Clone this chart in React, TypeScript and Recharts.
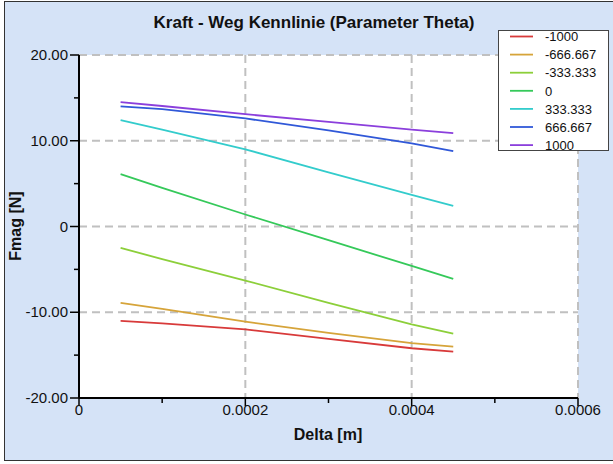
import { LineChart, Line, XAxis, YAxis, CartesianGrid, Legend } from 'recharts'

// Delta [m] sample positions
const deltaM = [0.00005, 0.0001, 0.0002, 0.0003, 0.0004, 0.00045]

// Fmag [N] per theta parameter
const fNeg1000 = [-11.0, -11.3, -12.0, -13.1, -14.2, -14.6]
const fNeg667 = [-8.9, -9.6, -11.1, -12.4, -13.6, -14.0]
const fNeg333 = [-2.5, -3.8, -6.3, -8.9, -11.4, -12.5]
const f0 = [6.1, 4.5, 1.4, -1.6, -4.6, -6.1]
const f333 = [12.4, 11.3, 9.0, 6.3, 3.7, 2.4]
const f667 = [14.0, 13.7, 12.6, 11.2, 9.7, 8.8]
const f1000 = [14.5, 14.05, 13.1, 12.2, 11.3, 10.9]

const thetaLabels = ['-1000', '-666.667', '-333.333', '0', '333.333', '666.667', '1000']
const seriesValues = [fNeg1000, fNeg667, fNeg333, f0, f333, f667, f1000]
const seriesColors = ['#d83a3a', '#d6a43a', '#8ccf3a', '#35c95a', '#33cccc', '#3058d8', '#8b3fdc']

const xTicks = [0, 0.0001, 0.0002, 0.0003, 0.0004, 0.0005, 0.0006]
const xMajor = [0, 0.0002, 0.0004, 0.0006]
const xTickLabels = ['0', '0.0002', '0.0004', '0.0006']
const yTicks = [-20, -15, -10, -5, 0, 5, 10, 15, 20]
const yMajor = [-20, -10, 0, 10, 20]
const yTickLabels = ['-20.00', '-10.00', '0', '10.00', '20.00']

const data = deltaM.map((d, i) => {
  const row: Record<string, number> = { delta: d }
  thetaLabels.forEach((t, s) => {
    row[t] = seriesValues[s][i]
  })
  return row
})

const FONT = '"Liberation Sans", Arial, sans-serif'

// eslint-disable-next-line @typescript-eslint/no-explicit-any
const XTick = (props: any) => {
  const { x, y, payload } = props
  const axisY = y - 10
  const idx = xMajor.indexOf(payload.value)
  if (idx < 0) {
    return <line x1={x} x2={x} y1={axisY - 1} y2={axisY + 5} stroke="#000" strokeWidth={1.5} />
  }
  return (
    <g>
      <line x1={x} x2={x} y1={axisY} y2={axisY + 8} stroke="#000" strokeWidth={1.5} />
      <text x={x} y={axisY + 17} textAnchor="middle" fontSize={15} fontFamily={FONT} fill="#111">
        {xTickLabels[idx]}
      </text>
    </g>
  )
}

// eslint-disable-next-line @typescript-eslint/no-explicit-any
const YTick = (props: any) => {
  const { x, y, payload } = props
  const axisX = x + 11
  const idx = yMajor.indexOf(payload.value)
  if (idx < 0) {
    return <line x1={axisX - 5} x2={axisX + 1} y1={y} y2={y} stroke="#000" strokeWidth={1.5} />
  }
  return (
    <g>
      <line x1={axisX - 9} x2={axisX} y1={y} y2={y} stroke="#000" strokeWidth={1.5} />
      <text x={axisX - 11} y={y + 5} textAnchor="end" fontSize={15} fontFamily={FONT} fill="#111">
        {yTickLabels[idx]}
      </text>
    </g>
  )
}

// legend keeps series order (recharts sorts payload by name)
const LegendBox = () => (
  <svg width={111} height={122} style={{ display: 'block', overflow: 'visible' }}>
    <rect x={0.5} y={0.5} width={110} height={120} fill="#fff" stroke="#444" />
    {thetaLabels.map((t, i) => {
      const cy = 6.5 + i * 18.1
      return (
        <g key={t}>
          <line x1={12} x2={35} y1={cy} y2={cy} stroke={seriesColors[i]} strokeWidth={1.8} />
          <text x={47} y={cy + 4.7} fontSize={13} fontFamily={FONT} fill="#111">
            {t}
          </text>
        </g>
      )
    })}
  </svg>
)

export default function App() {
  return (
    <div style={{ position: 'absolute', left: 0, top: 0, width: 613, height: 464, overflow: 'hidden', background: '#fff' }}>
      <div
        style={{
          position: 'absolute',
          left: 4,
          top: 1,
          width: 620,
          height: 460,
          boxSizing: 'border-box',
          background: '#d5e3f7',
          border: '1px solid #333',
        }}
      />
      <div style={{ position: 'absolute', left: 0, top: 0 }}>
        <LineChart width={613} height={464} data={data} margin={{ top: 55, right: 35, bottom: 36, left: 0 }}>
          <CartesianGrid
            fill="#fff"
            stroke="#c0c0c0"
            strokeWidth={2}
            strokeDasharray="8 5"
            horizontalValues={yMajor}
            verticalValues={xMajor}
          />
          <XAxis
            dataKey="delta"
            type="number"
            domain={[0, 0.0006]}
            ticks={xTicks}
            interval={0}
            height={30}
            tickSize={8}
            tickMargin={2}
            tickLine={false}
            tick={<XTick />}
            axisLine={{ stroke: '#000', strokeWidth: 2 }}
          />
          <YAxis
            type="number"
            domain={[-20, 20]}
            ticks={yTicks}
            interval={0}
            width={79}
            tickSize={9}
            tickMargin={2}
            tickLine={false}
            tick={<YTick />}
            axisLine={{ stroke: '#000', strokeWidth: 2 }}
          />
          <Legend
            layout="vertical"
            align="center"
            verticalAlign="middle"
            content={<LegendBox />}
            wrapperStyle={{ left: 498, top: 30, width: 111, height: 122 }}
          />
          {thetaLabels.map((t, i) => (
            <Line
              key={t}
              type="linear"
              dataKey={t}
              name={t}
              stroke={seriesColors[i]}
              strokeWidth={1.8}
              dot={false}
              activeDot={false}
              isAnimationActive={false}
            />
          ))}
        </LineChart>
      </div>
      <svg width={613} height={464} style={{ position: 'absolute', left: 0, top: 0, pointerEvents: 'none' }}>
        <text x={314} y={28} textAnchor="middle" fontSize={17} fontWeight="bold" fontFamily={FONT} fill="#111">
          Kraft - Weg Kennlinie (Parameter Theta)
        </text>
        <text x={328} y={440} textAnchor="middle" fontSize={16} fontWeight="bold" fontFamily={FONT} fill="#111">
          Delta [m]
        </text>
        <text
          x={0}
          y={0}
          transform="translate(21,226) rotate(-90)"
          textAnchor="middle"
          fontSize={16}
          fontWeight="bold"
          fontFamily={FONT}
          fill="#111"
        >
          Fmag [N]
        </text>
      </svg>
    </div>
  )
}
